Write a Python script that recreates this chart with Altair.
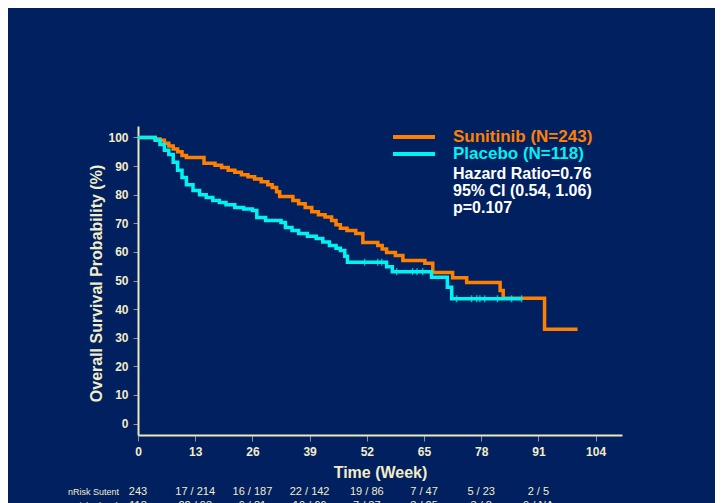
import altair as alt
import pandas as pd

# ---- data ----
sun_t = [0, 3.9, 5, 6, 7, 8, 9, 10, 11, 15, 17.5, 19, 20.5, 22, 23.5, 25, 26.5, 28, 29.5, 30.5,
         31.5, 32.2, 35.2, 36.5, 38, 39.5, 41, 42.5, 44, 45, 46, 47.5, 49.5, 51.1, 54.5, 55.5,
         56.5, 58.5, 60.2, 65.2, 67, 71.5, 74.7, 82.3, 83, 92.4, 99.9]
sun_s = [100, 99.5, 99, 98, 97, 96, 95, 93.7, 93, 91, 90.3, 89.5, 88.5, 87.8, 87, 86.3, 85.5, 84.5,
         83.5, 82.5, 81, 79.4, 78, 76.8, 75.5, 74, 73, 72.2, 71, 69.5, 68.3, 67.5, 66.4, 63.3, 62.2,
         61, 59.8, 58.7, 57, 56, 52.8, 51, 49.3, 46.5, 43.8, 33, 33]

pla_t = [0, 3.9, 5, 6, 7, 8, 9, 10, 11, 12.5, 14, 15.5, 17, 18.5, 20, 22, 24, 26, 27, 29, 32.5,
         33.5, 35, 36.5, 38.5, 40.5, 42, 43.5, 45, 46, 47, 47.6, 56.5, 57.8, 66.7, 70.3, 71.3, 87.2]
pla_s = [100, 99, 97.5, 95.5, 94, 91.3, 88.5, 86, 83.5, 81.5, 80, 79, 78, 77.3, 76.5, 75.5, 75, 74.5,
         72, 71, 70.3, 68.5, 67.5, 66.4, 65.5, 64.7, 63.5, 62.2, 61.3, 60.5, 58.5, 56.4, 54.8, 53.1,
         51.1, 47.6, 43.6, 43.6]

pla_cens_t = [51.5, 54.5, 55.4, 58.8, 62.4, 63.4, 64.7, 72.4, 75.8, 77, 77.7, 78.8, 81.7, 84.9, 87.2]
pla_cens_s = [56.4, 56.4, 56.4, 53.1, 53.1, 53.1, 53.1, 43.6, 43.6, 43.6, 43.6, 43.6, 43.6, 43.6, 43.6]

x_ticks = [0, 13, 26, 39, 52, 65, 78, 91, 104]
y_ticks = [0, 10, 20, 30, 40, 50, 60, 70, 80, 90, 100]

risk_weeks = [0, 13, 26, 39, 52, 65, 78, 91]
risk_sut = ["243", "17 / 214", "16 / 187", "22 / 142", "19 / 86", "7 / 47", "5 / 23", "2 / 5"]
risk_pla = ["118", "22 / 93", "9 / 81", "10 / 66", "7 / 37", "3 / 25", "3 / 8", "0 / NA"]

series_names = ["Sunitinib", "Placebo"]
series_colors = ["#FF8000", "#00F2F2"]
legend_labels = ["Sunitinib (N=243)", "Placebo (N=118)"]
stats_lines = ["Hazard Ratio=0.76", "95% CI (0.54, 1.06)", "p=0.107"]

BG = "#002060"
CREAM = "#F3EDC8"
FONT = "Liberation Sans"

curves = pd.concat([
    pd.DataFrame({"t": sun_t, "s": sun_s, "g": "Sunitinib"}),
    pd.DataFrame({"t": pla_t, "s": pla_s, "g": "Placebo"}),
])
cens = pd.DataFrame({"t": pla_cens_t, "s": pla_cens_s, "g": "Placebo"})

xs = alt.Scale(domain=[0, 110], nice=False, zero=False)
ys = alt.Scale(domain=[-4, 104], nice=False, zero=False)
cs = alt.Scale(domain=series_names, range=series_colors)

x_axis = alt.Axis(values=x_ticks, title="Time (Week)", grid=False, domainColor="#EEE8B8",
                  domainWidth=2, tickColor="#8896AA", tickSize=6, labelColor=CREAM,
                  labelFont=FONT, labelFontSize=12, labelFontWeight="bold", labelPadding=5,
                  titleColor=CREAM, titleFont=FONT, titleFontSize=16, titleFontWeight="bold",
                  titleBaseline="middle", titleY=37, labelFlush=False, labelOverlap=False)
y_axis = alt.Axis(values=y_ticks, title="Overall Survival Probability (%)", grid=False,
                  domainColor="#EEE8B8", domainWidth=2, tickColor="#8896AA", tickSize=5,
                  labelColor=CREAM, labelFont=FONT, labelFontSize=12, labelFontWeight="bold",
                  labelPadding=5, titleColor=CREAM, titleFont=FONT, titleFontSize=16,
                  titleFontWeight="bold", titleBaseline="middle", titleAngle=270,
                  titleX=-42, titleY=157, labelFlush=False, labelOverlap=False)

lines = alt.Chart(curves).mark_line(interpolate="step-after", strokeWidth=3.5, clip=False).encode(
    x=alt.X("t:Q", scale=xs, axis=x_axis),
    y=alt.Y("s:Q", scale=ys, axis=y_axis),
    color=alt.Color("g:N", scale=cs, legend=None),
    detail="g:N",
)

ticks = alt.Chart(cens).mark_tick(thickness=1.5, size=7).encode(
    x=alt.X("t:Q", scale=xs, axis=x_axis), y=alt.Y("s:Q", scale=ys, axis=y_axis),
    color=alt.Color("g:N", scale=cs, legend=None),
)

risk_df = pd.DataFrame({"w": risk_weeks, "a": risk_sut, "b": risk_pla})
risk1 = alt.Chart(risk_df).mark_text(font=FONT, fontSize=11, color=CREAM, baseline="middle").encode(
    x=alt.X("w:Q", scale=xs, axis=x_axis), y=alt.value(366), text="a:N")
risk2 = alt.Chart(risk_df).mark_text(font=FONT, fontSize=11, color=CREAM, baseline="middle").encode(
    x=alt.X("w:Q", scale=xs, axis=x_axis), y=alt.value(380), text="b:N")

risk_lab1 = alt.Chart(pd.DataFrame({"l": ["nRisk Sutent"]})).mark_text(
    font=FONT, fontSize=9, color=CREAM, align="left", baseline="middle").encode(
    x=alt.value(-70), y=alt.value(366), text="l:N")
risk_lab2 = alt.Chart(pd.DataFrame({"l": ["nRisk Placebo"]})).mark_text(
    font=FONT, fontSize=9, color=CREAM, align="left", baseline="middle").encode(
    x=alt.value(-70), y=alt.value(380), text="l:N")

def legend_item(i, ypix):
    df = pd.DataFrame({"g": [series_names[i]], "lab": [legend_labels[i]]})
    rule = alt.Chart(df).mark_rule(strokeWidth=4, color=series_colors[i]).encode(
        x=alt.value(255), x2=alt.value(297), y=alt.value(ypix))
    txt = alt.Chart(df).mark_text(font=FONT, fontSize=17, fontWeight="bold", align="left",
                                  baseline="middle", color=series_colors[i]).encode(
        x=alt.value(315), y=alt.value(ypix), text="lab:N")
    return rule + txt

leg1 = legend_item(0, 11)
leg2 = legend_item(1, 28)

stat_layers = []
for line, ypix in zip(stats_lines, [48, 65, 82]):
    stat_layers.append(alt.Chart(pd.DataFrame({"l": [line]})).mark_text(
        font=FONT, fontSize=16, fontWeight="bold", align="left", baseline="middle",
        color="white").encode(x=alt.value(315), y=alt.value(ypix), text="l:N"))

chart = alt.layer(lines, ticks, risk1, risk2, risk_lab1, risk_lab2, leg1, leg2,
                  *stat_layers).properties(
    width=484, height=309,
    padding={"left": 130, "top": 118, "right": 93, "bottom": 68},
    autosize=alt.AutoSizeParams(type="none"),
    background=BG,
).configure_view(stroke=None)

chart.save("out.html", embed_options={"renderer": "svg", "actions": False})
